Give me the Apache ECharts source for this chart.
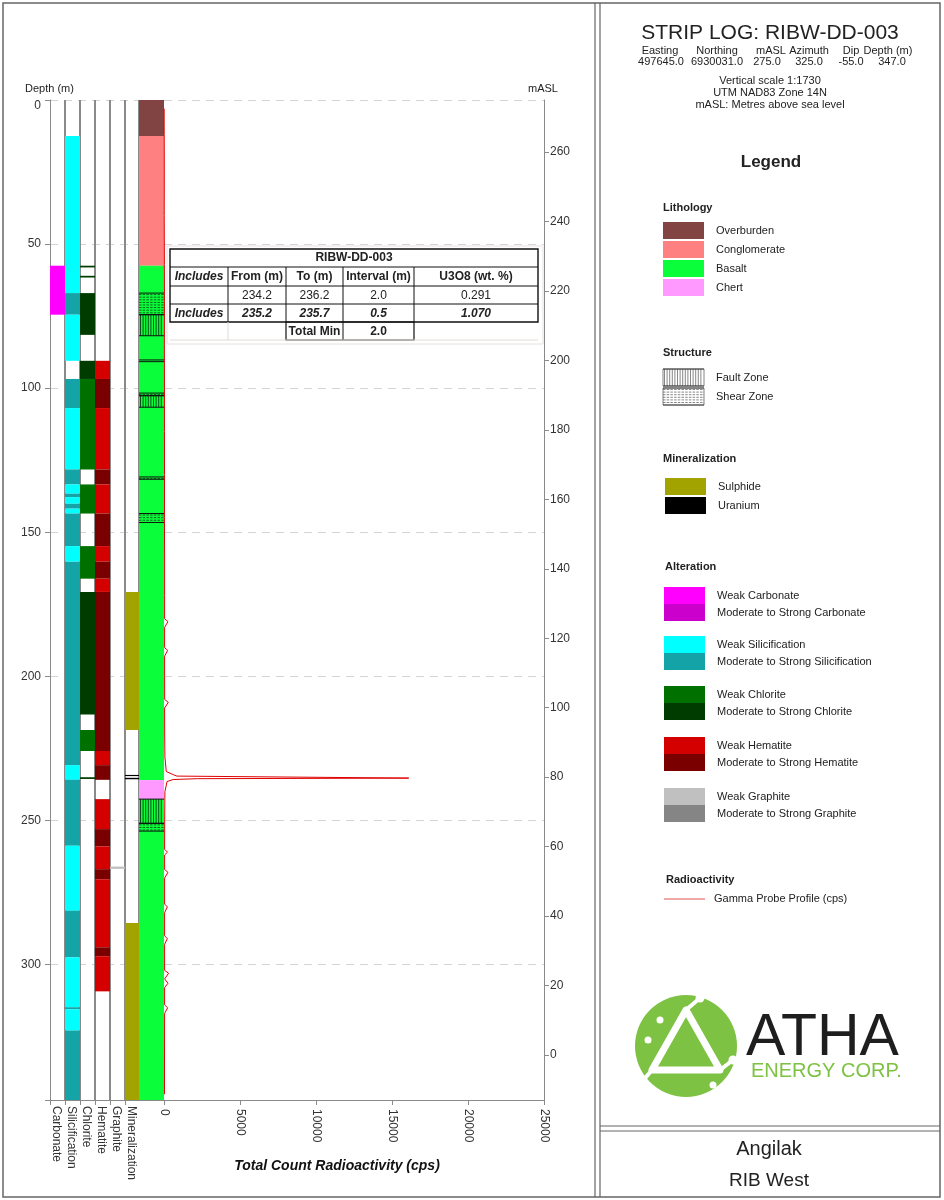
<!DOCTYPE html>
<html><head><meta charset="utf-8">
<script src="https://cdn.jsdelivr.net/npm/echarts@6/dist/echarts.min.js"></script>
<style>html,body{margin:0;padding:0;background:#fff}#c{width:944px;height:1200px}</style>
</head><body><div id="c"></div>
<script>
// ---------------- DATA ----------------
const maxDepth = 347;
const depthTicks = [0, 50, 100, 150, 200, 250, 300];
const maslTicks = [0, 20, 40, 60, 80, 100, 120, 140, 160, 180, 200, 220, 240, 260];
const maslTop = 275, maslBottom = -13;
const gammaTicks = [0, 5000, 10000, 15000, 20000, 25000];
const columnNames = ['Carbonate', 'Silicification', 'Chlorite', 'Hematite', 'Graphite', 'Mineralization', 'Lithology'];

// intervals: [from (m), to (m), code]
const lithologyIntervals = [[0, 12.5, 'Overburden'], [12.5, 57.5, 'Conglomerate'], [57.5, 236, 'Basalt'], [236, 242.6, 'Chert'], [242.6, 347, 'Basalt']];
const structureIntervals = [[67, 74.5, 'Shear'], [74.5, 81.8, 'Fault'], [90.2, 90.8, 'Shear'], [101.7, 102.6, 'Shear'], [102.6, 106.6, 'Fault'],
  [130.8, 131.6, 'Shear'], [143.5, 146.6, 'Shear'], [242.6, 251, 'Fault'], [251, 253.7, 'Shear']];
const carbonateIntervals = [[57.5, 74.5, 'W']];
const silicificationIntervals = [[12.5, 67, 'W'], [67, 74.5, 'M'], [74.5, 90.5, 'W'], [96.8, 106.9, 'M'], [106.9, 128.2, 'W'], [128.2, 133.4, 'M'],
  [133.4, 136.6, 'W'], [136.6, 137.8, 'M'], [137.8, 140.1, 'W'], [140.1, 141.8, 'M'], [141.8, 143.5, 'W'], [143.5, 154.8, 'M'], [154.8, 160.2, 'W'],
  [160.2, 230.8, 'M'], [230.8, 235.9, 'W'], [235.9, 258.8, 'M'], [258.8, 281.3, 'W'], [281.3, 297.5, 'M'], [297.5, 314.8, 'W'], [314.8, 315.5, 'M'],
  [315.5, 322.9, 'W'], [322.9, 347, 'M']];
const chloriteIntervals = [[57.5, 58.1, 'M'], [61, 61.6, 'M'], [67, 81.5, 'M'], [90.5, 96.8, 'M'], [96.8, 128.2, 'W'], [133.4, 143.5, 'W'],
  [154.8, 166.1, 'W'], [170.7, 213.2, 'M'], [218.6, 225.9, 'W'], [235, 235.6, 'M']];
const hematiteIntervals = [[90.5, 96.8, 'W'], [96.8, 106.9, 'M'], [106.9, 128.2, 'W'], [128.2, 133.4, 'M'], [133.4, 143.5, 'W'], [143.5, 154.8, 'M'],
  [154.8, 160.2, 'W'], [160.2, 166.1, 'M'], [166.1, 170.7, 'W'], [170.7, 225.9, 'M'], [225.9, 230.8, 'W'], [230.8, 235.9, 'M'], [242.6, 253, 'W'],
  [253, 259, 'M'], [259, 266.9, 'W'], [266.9, 270.4, 'M'], [270.4, 294, 'W'], [294, 297.1, 'M'], [297.1, 309.3, 'W']];
const graphiteIntervals = [[266, 266.8, 'W']];
const mineralizationIntervals = [[170.7, 218.6, 'Sulphide'], [234.2, 234.6, 'Uranium'], [235.2, 235.7, 'Uranium'], [285.6, 347, 'Sulphide']];

// gamma probe profile
const gammaDepth = [3, 12, 25, 40, 57, 70, 85, 100, 115, 130, 145, 160, 172, 180, 181, 183, 190, 191, 193, 200, 208, 209, 211, 220, 228, 233,
  234.2, 234.6, 235.0, 235.3, 235.5, 235.8, 236.5, 240, 250, 260, 261, 262, 267, 268, 270, 279, 280, 282, 290, 291, 293, 302, 303, 305, 306.5,
  308, 314, 315, 317, 330, 345];
const gammaCps = [10, 15, 20, 15, 25, 30, 25, 30, 30, 35, 30, 40, 40, 40, 260, 40, 40, 240, 40, 40, 45, 280, 40, 45, 60, 150,
  650, 850, 900, 16100, 2200, 600, 200, 60, 45, 40, 230, 40, 40, 260, 40, 40, 220, 40, 40, 220, 40, 40, 300, 45, 260,
  40, 40, 240, 40, 35, 30];

// header / table texts
const logTitle = 'STRIP LOG: RIBW-DD-003';
const collarHeaders = ['Easting', 'Northing', 'mASL', 'Azimuth', 'Dip', 'Depth (m)'];
const collarValues = ['497645.0', '6930031.0', '275.0', '325.0', '-55.0', '347.0'];
const headerNotes = ['Vertical scale 1:1730', 'UTM NAD83 Zone 14N', 'mASL: Metres above sea level'];
const tableTitle = 'RIBW-DD-003';
const tableHeader = ['Includes', 'From (m)', 'To (m)', 'Interval (m)', 'U3O8 (wt. %)'];
const tableRows = [['', '234.2', '236.2', '2.0', '0.291'], ['Includes', '235.2', '235.7', '0.5', '1.070'], ['', '', 'Total Min', '2.0', '']];
const projectName = 'Angilak';
const areaName = 'RIB West';

// legend
const lithologyLegend = ['Overburden', 'Conglomerate', 'Basalt', 'Chert'];
const structureLegend = ['Fault Zone', 'Shear Zone'];
const mineralLegend = ['Sulphide', 'Uranium'];
const alterationLegend = ['Carbonate', 'Silicification', 'Chlorite', 'Hematite', 'Graphite'];

// ---------------- STYLE ----------------
const FONT = '"Liberation Sans", Arial, sans-serif';
const LITHO_COLORS = { Overburden: '#824343', Conglomerate: '#ff8080', Basalt: '#0aff3a', Chert: '#ff99ff' };
const MIN_COLORS = { Sulphide: '#a3a300', Uranium: '#000000' };
const ALT_COLORS = {
  Carbonate: { W: '#ff00ff', M: '#cc00cc' },
  Silicification: { W: '#00ffff', M: '#14a4a8' },
  Chlorite: { W: '#007000', M: '#003c00' },
  Hematite: { W: '#d40000', M: '#7a0000' },
  Graphite: { W: '#c0c0c0', M: '#858585' }
};
const colEdges = [0, 15, 30, 45, 60, 75, 89, 114]; // px offsets within column strip
const AXIS_GRAY = '#8a8a8a';

const fillItems = [];
function addIntervals(list, colIdx, colorFn) {
  list.forEach(iv => fillItems.push({ value: [colIdx, iv[0], iv[1]], color: colorFn(iv[2]) }));
}
addIntervals(carbonateIntervals, 0, c => ALT_COLORS.Carbonate[c]);
addIntervals(silicificationIntervals, 1, c => ALT_COLORS.Silicification[c]);
addIntervals(chloriteIntervals, 2, c => ALT_COLORS.Chlorite[c]);
addIntervals(hematiteIntervals, 3, c => ALT_COLORS.Hematite[c]);
addIntervals(graphiteIntervals, 4, c => ALT_COLORS.Graphite[c]);
addIntervals(mineralizationIntervals, 5, c => MIN_COLORS[c]);
addIntervals(lithologyIntervals, 6, c => LITHO_COLORS[c]);

function renderFill(params, api) {
  const c = api.value(0);
  const p0 = api.coord([colEdges[c], api.value(1)]);
  const p1 = api.coord([colEdges[c + 1], api.value(2)]);
  return { type: 'rect', shape: { x: p0[0], y: p0[1], width: p1[0] - p0[0], height: Math.max(p1[1] - p0[1], 1) },
    style: { fill: fillItems[params.dataIndex].color } };
}
function renderOutline(params, api) {
  const c = api.value(0);
  const p0 = api.coord([colEdges[c], 0]);
  const p1 = api.coord([colEdges[c + 1], maxDepth]);
  return { type: 'group', children: [
    { type: 'line', shape: { x1: p0[0] + 0.5, y1: p0[1], x2: p0[0] + 0.5, y2: p1[1] }, style: { stroke: AXIS_GRAY, lineWidth: 1 } },
    { type: 'line', shape: { x1: p1[0] - 0.5, y1: p0[1], x2: p1[0] - 0.5, y2: p1[1] }, style: { stroke: AXIS_GRAY, lineWidth: 1 } }
  ] };
}
function hatch(x0, y0, x1, y1, type, color) {
  const ch = [];
  if (type === 'Fault') {
    for (let x = x0 + 1.5; x < x1 - 0.5; x += 2.6) ch.push({ type: 'line', shape: { x1: x, y1: y0, x2: x, y2: y1 }, style: { stroke: color, lineWidth: 0.9 } });
  } else {
    for (let y = y0 + 1.5; y < y1 - 0.3; y += 2.6) ch.push({ type: 'line', shape: { x1: x0, y1: y, x2: x1, y2: y }, style: { stroke: color, lineWidth: 0.8, lineDash: [2.5, 1.2] } });
  }
  ch.push({ type: 'line', shape: { x1: x0, y1: y0, x2: x1, y2: y0 }, style: { stroke: '#111', lineWidth: 1 } });
  ch.push({ type: 'line', shape: { x1: x0, y1: y1, x2: x1, y2: y1 }, style: { stroke: '#111', lineWidth: 1 } });
  return ch;
}
const structItems = structureIntervals.map(s => ({ value: [s[0], s[1]], kind: s[2] }));
function renderStructure(params, api) {
  const p0 = api.coord([colEdges[6], api.value(0)]);
  const p1 = api.coord([colEdges[7], api.value(1)]);
  return { type: 'group', children: hatch(p0[0], p0[1], p1[0], p1[1], structItems[params.dataIndex].kind, '#0b3d10') };
}

// ---------------- GRAPHICS ----------------
const G = [];
const T = (text, x, y, size, opt = {}) => G.push({ type: 'text', x, y, z: 110, style: {
  text, font: (opt.italic ? 'italic ' : '') + (opt.bold ? 'bold ' : '') + size + 'px ' + FONT, fill: opt.fill || '#222',
  textAlign: opt.align || 'left', textVerticalAlign: 'middle' } });
const L = (x1, y1, x2, y2, stroke, lw, dash) => G.push({ type: 'line', z: 105, shape: { x1, y1, x2, y2 }, style: { stroke, lineWidth: lw, lineDash: dash || null } });
const R = (x, y, w, h, fill, stroke, lw) => G.push({ type: 'rect', z: 104, shape: { x, y, width: w, height: h }, style: { fill: fill || 'none', stroke: stroke || null, lineWidth: lw || 1 } });

// page frame
R(3, 3, 937, 1194, null, '#666', 1.5);
L(595, 3, 595, 1197, '#666', 1.2);
L(600, 3, 600, 1197, '#666', 1.2);
L(600, 1126, 940, 1126, '#666', 1.2);
L(600, 1131, 940, 1131, '#666', 1.2);

// header
T(logTitle, 770, 33, 21, { align: 'center' });
const collarX = [660, 717, 771, 809, 851, 888];
const valueX = [661, 717, 767, 809, 851, 892];
collarHeaders.forEach((h, i) => T(h, collarX[i], 51, 11, { align: 'center' }));
collarValues.forEach((v, i) => T(v, valueX[i], 62, 11, { align: 'center' }));
headerNotes.forEach((n, i) => T(n, 770, 81 + i * 12, 11, { align: 'center' }));

// legend
T('Legend', 771, 162, 17, { bold: true, align: 'center' });
T('Lithology', 663, 208, 11, { bold: true });
lithologyLegend.forEach((n, i) => { const y = 222 + i * 19; R(663, y, 41, 17, LITHO_COLORS[n]); T(n, 716, y + 9, 11); });
T('Structure', 663, 353, 11, { bold: true });
structureLegend.forEach((n, i) => {
  const y = 369 + i * 19;
  R(663, y, 41, 17, '#fff', '#666', 0.8);
  hatch(663, y, 704, y + 17, i === 0 ? 'Fault' : 'Shear', '#555').forEach(e => { e.z = 106; e.style.lineWidth = 0.7; G.push(e); });
  T(n, 716, y + 9, 11);
});
T('Mineralization', 663, 459, 11, { bold: true });
mineralLegend.forEach((n, i) => { const y = 478 + i * 19; R(665, y, 41, 17, MIN_COLORS[n]); T(n, 718, y + 9, 11); });
T('Alteration', 665, 567, 11, { bold: true });
const altTop = [587, 636, 686, 737, 788];
alterationLegend.forEach((n, i) => {
  const y = altTop[i];
  R(664, y, 41, 17, ALT_COLORS[n].W); R(664, y + 17, 41, 17, ALT_COLORS[n].M);
  T('Weak ' + n, 717, y + 9, 11); T('Moderate to Strong ' + n, 717, y + 26, 11);
});
T('Radioactivity', 666, 880, 11, { bold: true });
L(664, 899, 705, 899, '#e05050', 1);
T('Gamma Probe Profile (cps)', 714, 899, 11);

// logo (approximation)
G.push({ type: 'circle', z: 104, shape: { cx: 686, cy: 1046, r: 51 }, style: { fill: '#7dc242' } });
G.push({ type: 'polygon', z: 105, shape: { points: [[686, 1010], [652, 1070], [720, 1070]] }, style: { fill: 'none', stroke: '#fff', lineWidth: 7, lineJoin: 'round' } });
G.push({ type: 'polygon', z: 106, shape: { points: [[686, 1030], [668, 1061], [704, 1061]] }, style: { fill: '#7dc242' } });
L(652, 1070, 641, 1083, '#fff', 4); L(720, 1070, 733, 1060, '#fff', 4); L(686, 1010, 700, 998, '#fff', 4);
[[641, 1083], [733, 1060], [700, 998]].forEach(p => G.push({ type: 'circle', z: 107, shape: { cx: p[0], cy: p[1], r: 4.5 }, style: { fill: '#fff' } }));
[[660, 1020], [713, 1085], [648, 1040]].forEach(p => G.push({ type: 'circle', z: 107, shape: { cx: p[0], cy: p[1], r: 3.5 }, style: { fill: '#fff' } }));
T('ATHA', 746, 1039, 59, { fill: '#1e1e1e' });
T('ENERGY CORP.', 751, 1071, 20, { fill: '#7dc242' });

// bottom right
T(projectName, 769, 1149, 20, { align: 'center' });
T(areaName, 769, 1181, 19, { align: 'center' });

// axis captions
T('Depth (m)', 25, 89, 11);
T('mASL', 528, 89, 11);
T('Total Count Radioactivity (cps)', 337, 1166, 14, { bold: true, italic: true, align: 'center', fill: '#111' });

// intersection table
const tColX = [170, 228, 286, 343, 414, 538];
const tRowY = [249, 267, 286, 304, 322, 340];
R(167, 246, 376, 98, '#fff', '#e8e0e0', 1);
R(170, 249, 368, 73, null, '#111', 1.4);
[267, 286, 304].forEach(y => L(170, y, 538, y, '#111', 1));
[228, 286, 343, 414].forEach(x => L(x, 267, x, 322, '#111', 1));
R(286, 322, 128, 18, null, '#111', 1.2);
L(343, 322, 343, 340, '#111', 1);
L(228, 322, 228, 340, '#e0dada', 1); L(170, 340, 538, 340, '#e0dada', 1);
const cellCx = i => (tColX[i] + tColX[i + 1]) / 2;
T(tableTitle, 354, 258, 12, { bold: true, align: 'center' });
tableHeader.forEach((h, i) => T(h, cellCx(i), 276.5, 12, { bold: true, italic: i === 0, align: 'center' }));
tableRows.forEach((row, r) => row.forEach((v, i) => {
  if (!v) return;
  const y = (tRowY[r + 2] + tRowY[r + 3]) / 2 + 0.5;
  T(v, cellCx(i), y, 12, { bold: r >= 1, italic: r === 1, align: 'center' });
}));

// ---------------- CHART ----------------
const chart = echarts.init(document.getElementById('c'), null, { renderer: 'canvas', width: 944, height: 1200 });
const colLabelPos = colEdges.slice(0, 6).map(e => e + 6);
const axisLabelStyle = { color: '#333', fontSize: 12, fontFamily: FONT };
chart.setOption({
  animation: false,
  backgroundColor: '#fff',
  grid: [
    { left: 164, top: 100, width: 380, height: 1000 },
    { left: 50, top: 100, width: 114, height: 1000 }
  ],
  xAxis: [
    { gridIndex: 0, type: 'value', min: 0, max: 25000, interval: 5000, position: 'bottom',
      axisLine: { show: true, onZero: false, lineStyle: { color: AXIS_GRAY } },
      axisTick: { show: true, length: 5, lineStyle: { color: AXIS_GRAY } },
      axisLabel: Object.assign({ rotate: -90, margin: 9, formatter: v => String(v) }, axisLabelStyle), splitLine: { show: false } },
    { gridIndex: 1, type: 'value', min: 0, max: 114, position: 'bottom',
      axisLine: { show: true, onZero: false, lineStyle: { color: AXIS_GRAY } },
      axisTick: { show: true, length: 5, lineStyle: { color: AXIS_GRAY }, customValues: colEdges.slice(0, 6) },
      axisLabel: Object.assign({ rotate: -90, margin: 6, customValues: colLabelPos,
        formatter: v => { const i = colLabelPos.indexOf(v); return i >= 0 ? columnNames[i] : ''; } }, axisLabelStyle),
      splitLine: { show: false } }
  ],
  yAxis: [
    { gridIndex: 0, type: 'value', inverse: true, min: 0, max: maxDepth, interval: 50, position: 'left',
      axisLine: { show: false, onZero: false }, axisTick: { show: false }, axisLabel: { show: false },
      splitLine: { show: true, lineStyle: { color: '#d4d4d4', type: [8, 6], width: 1 } } },
    { gridIndex: 0, type: 'value', min: maslBottom, max: maslTop, position: 'right',
      axisLine: { show: true, onZero: false, lineStyle: { color: AXIS_GRAY } },
      axisTick: { show: true, length: 5, lineStyle: { color: AXIS_GRAY }, customValues: maslTicks },
      axisLabel: Object.assign({ margin: 6, customValues: maslTicks }, axisLabelStyle), splitLine: { show: false } },
    { gridIndex: 1, type: 'value', inverse: true, min: 0, max: maxDepth, interval: 50, position: 'left',
      axisLine: { show: true, onZero: false, lineStyle: { color: AXIS_GRAY } },
      axisTick: { show: true, length: 5, lineStyle: { color: AXIS_GRAY } },
      axisLabel: Object.assign({ margin: 9, customValues: depthTicks, verticalAlignMinLabel: 'top' }, axisLabelStyle),
      splitLine: { show: true, lineStyle: { color: '#d4d4d4', type: [8, 6], width: 1 } } }
  ],
  series: [
    { type: 'custom', xAxisIndex: 1, yAxisIndex: 2, renderItem: renderOutline, z: 1,
      data: columnNames.map((n, i) => [i, 0, maxDepth]), encode: { x: 0, y: [1, 2] }, clip: false },
    { type: 'custom', xAxisIndex: 1, yAxisIndex: 2, renderItem: renderFill, z: 2,
      data: fillItems.map(f => f.value), encode: { x: 0, y: [1, 2] } },
    { type: 'custom', xAxisIndex: 1, yAxisIndex: 2, renderItem: renderStructure, z: 3,
      data: structItems.map(s => s.value), encode: { y: [0, 1] } },
    { type: 'line', xAxisIndex: 0, yAxisIndex: 0, z: 4, showSymbol: false, symbol: 'none',
      lineStyle: { color: '#e00000', width: 1 },
      data: gammaDepth.map((d, i) => [gammaCps[i], d]) }
  ],
  graphic: { elements: G }
});
</script>
</body></html>
